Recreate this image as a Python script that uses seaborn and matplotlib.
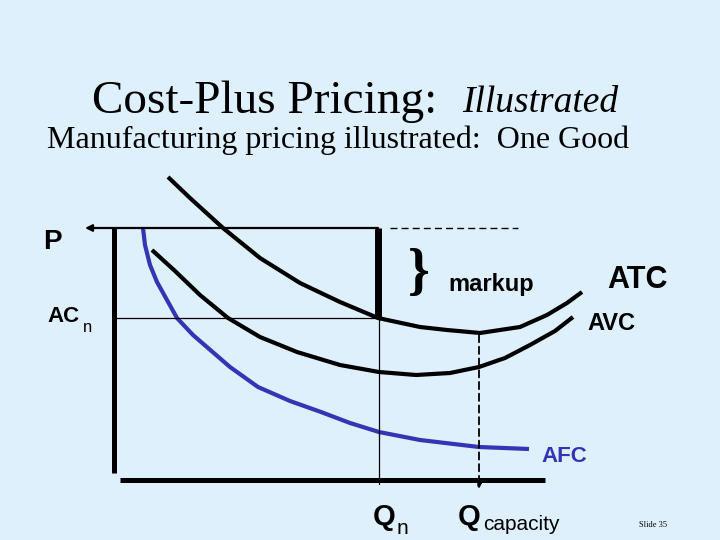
"""
Cost-plus pricing diagram: ATC, AVC and AFC curves with markup over ACn.
Units are arbitrary (quantity on x, unit cost on y).
"""

import numpy as np
import pandas as pd
import matplotlib
matplotlib.use("Agg")
import matplotlib.pyplot as plt
import seaborn as sns


BG = "#DEF0FC"
BLUE = "#3434B4"

# curve readings (quantity, unit cost)
atc_q = [54, 76, 109, 146, 186, 226, 264, 306, 333, 366, 406, 433, 453, 468]
atc_c = [303, 282, 252, 222, 197, 178, 162, 153, 150, 147, 153, 165, 177, 188]

avc_q = [38, 61, 86, 114, 146, 183, 226, 265, 302, 336, 365, 391, 416, 441, 459]
avc_c = [230, 209, 185, 162, 143, 128, 115, 108, 105, 107, 113, 122, 135, 149, 163]

afc_q = [29, 31, 36, 43, 53, 63, 79, 94, 116, 144, 176, 207, 236, 265, 306, 365, 415]
afc_c = [252, 235, 215, 198, 180, 162, 145, 132, 113, 93, 79, 68, 57, 48, 40, 33, 31]

# key levels
P = 252
AC_N = 162
Q_N = 265
Q_CAP = 365


sns.set_theme(style="white", rc={"axes.facecolor": BG, "figure.facecolor": BG,
                                 "text.color": "black"})
plt.rcParams["font.family"] = ["Liberation Sans", "DejaVu Sans"]

fig = plt.figure(figsize=(7.2, 5.4), dpi=100)
ax = fig.add_axes([0, 0, 1, 1])
ax.set_xlim(-114, 606)
ax.set_ylim(-60, 480)
ax.axis("off")

curves = pd.concat([
    pd.DataFrame({"q": atc_q, "c": atc_c, "curve": "ATC"}),
    pd.DataFrame({"q": avc_q, "c": avc_c, "curve": "AVC"}),
    pd.DataFrame({"q": afc_q, "c": afc_c, "curve": "AFC"}),
])
sns.lineplot(data=curves, x="q", y="c", hue="curve", sort=False, estimator=None,
             palette={"ATC": "black", "AVC": "black", "AFC": BLUE},
             linewidth=3, legend=False, ax=ax,
             solid_capstyle="butt", solid_joinstyle="round")

# axes of the diagram
ax.plot([0, 0], [7, P], color="black", lw=3.6, solid_capstyle="butt")
ax.plot([6, 431], [0, 0], color="black", lw=3.6, solid_capstyle="butt")

# price line with arrow to the left
ax.annotate("", xy=(-29, P), xytext=(Q_N - 1, P),
            arrowprops=dict(arrowstyle="-|>", color="black", lw=1.6,
                            mutation_scale=10, shrinkA=0, shrinkB=0))
ax.plot([276, 404], [P, P], color="black", lw=1.0, ls=(0, (5, 3)))

# markup bar, ACn line and Qn drop
ax.plot([Q_N - 1, Q_N - 1], [AC_N, P], color="black", lw=5, solid_capstyle="butt")
ax.plot([0, Q_N], [AC_N, AC_N], color="black", lw=0.9)
ax.plot([Q_N, Q_N], [AC_N, -4], color="black", lw=0.9)

# capacity drop, dashed with arrow
ax.annotate("", xy=(Q_CAP, -9), xytext=(Q_CAP, 145),
            arrowprops=dict(arrowstyle="-|>", color="black", lw=1.3, ls=(0, (4, 2.5)),
                            mutation_scale=8, shrinkA=0, shrinkB=0))

# labels
ax.text(-62, 238, "P", fontsize=20, fontweight="bold", ha="center", va="center")
ax.text(-67, 164, "AC", fontsize=16, fontweight="bold", ha="left", va="center")
ax.text(-31, 153, "n", fontsize=12, ha="left", va="center")
ax.text(305, 206, "}", fontsize=40, fontweight="bold", family="Liberation Serif",
        ha="center", va="center")
ax.text(334, 195, "markup", fontsize=17, fontweight="bold", ha="left", va="center")
ax.text(493, 200, "ATC", fontsize=22, fontweight="bold", ha="left", va="center")
ax.text(473, 156, "AVC", fontsize=17, fontweight="bold", ha="left", va="center")
ax.text(427, 23, "AFC", fontsize=16, fontweight="bold", color=BLUE, ha="left", va="center")
ax.text(259, -37, "Q", fontsize=21, fontweight="bold", ha="left", va="center")
ax.text(283, -48, "n", fontsize=15, ha="left", va="center")
ax.text(344, -37, "Q", fontsize=21, fontweight="bold", ha="left", va="center")
ax.text(369, -45, "capacity", fontsize=15, ha="left", va="center")
ax.text(539, -45, "Slide 35", fontsize=6, family="Liberation Serif", ha="center", va="center")

# titles
fig.text(92 / 720, 1 - 113 / 540, "Cost-Plus Pricing:", fontsize=34,
         family="Liberation Serif", ha="left", va="baseline")
fig.text(462 / 720, 1 - 112 / 540, "Illustrated", fontsize=27, style="italic",
         family="Liberation Serif", ha="left", va="baseline")
fig.text(47 / 720, 1 - 148 / 540, "Manufacturing pricing illustrated:  One Good",
         fontsize=23, family="Liberation Serif", ha="left", va="baseline")

fig.savefig("out.png", dpi=100, facecolor=BG)
